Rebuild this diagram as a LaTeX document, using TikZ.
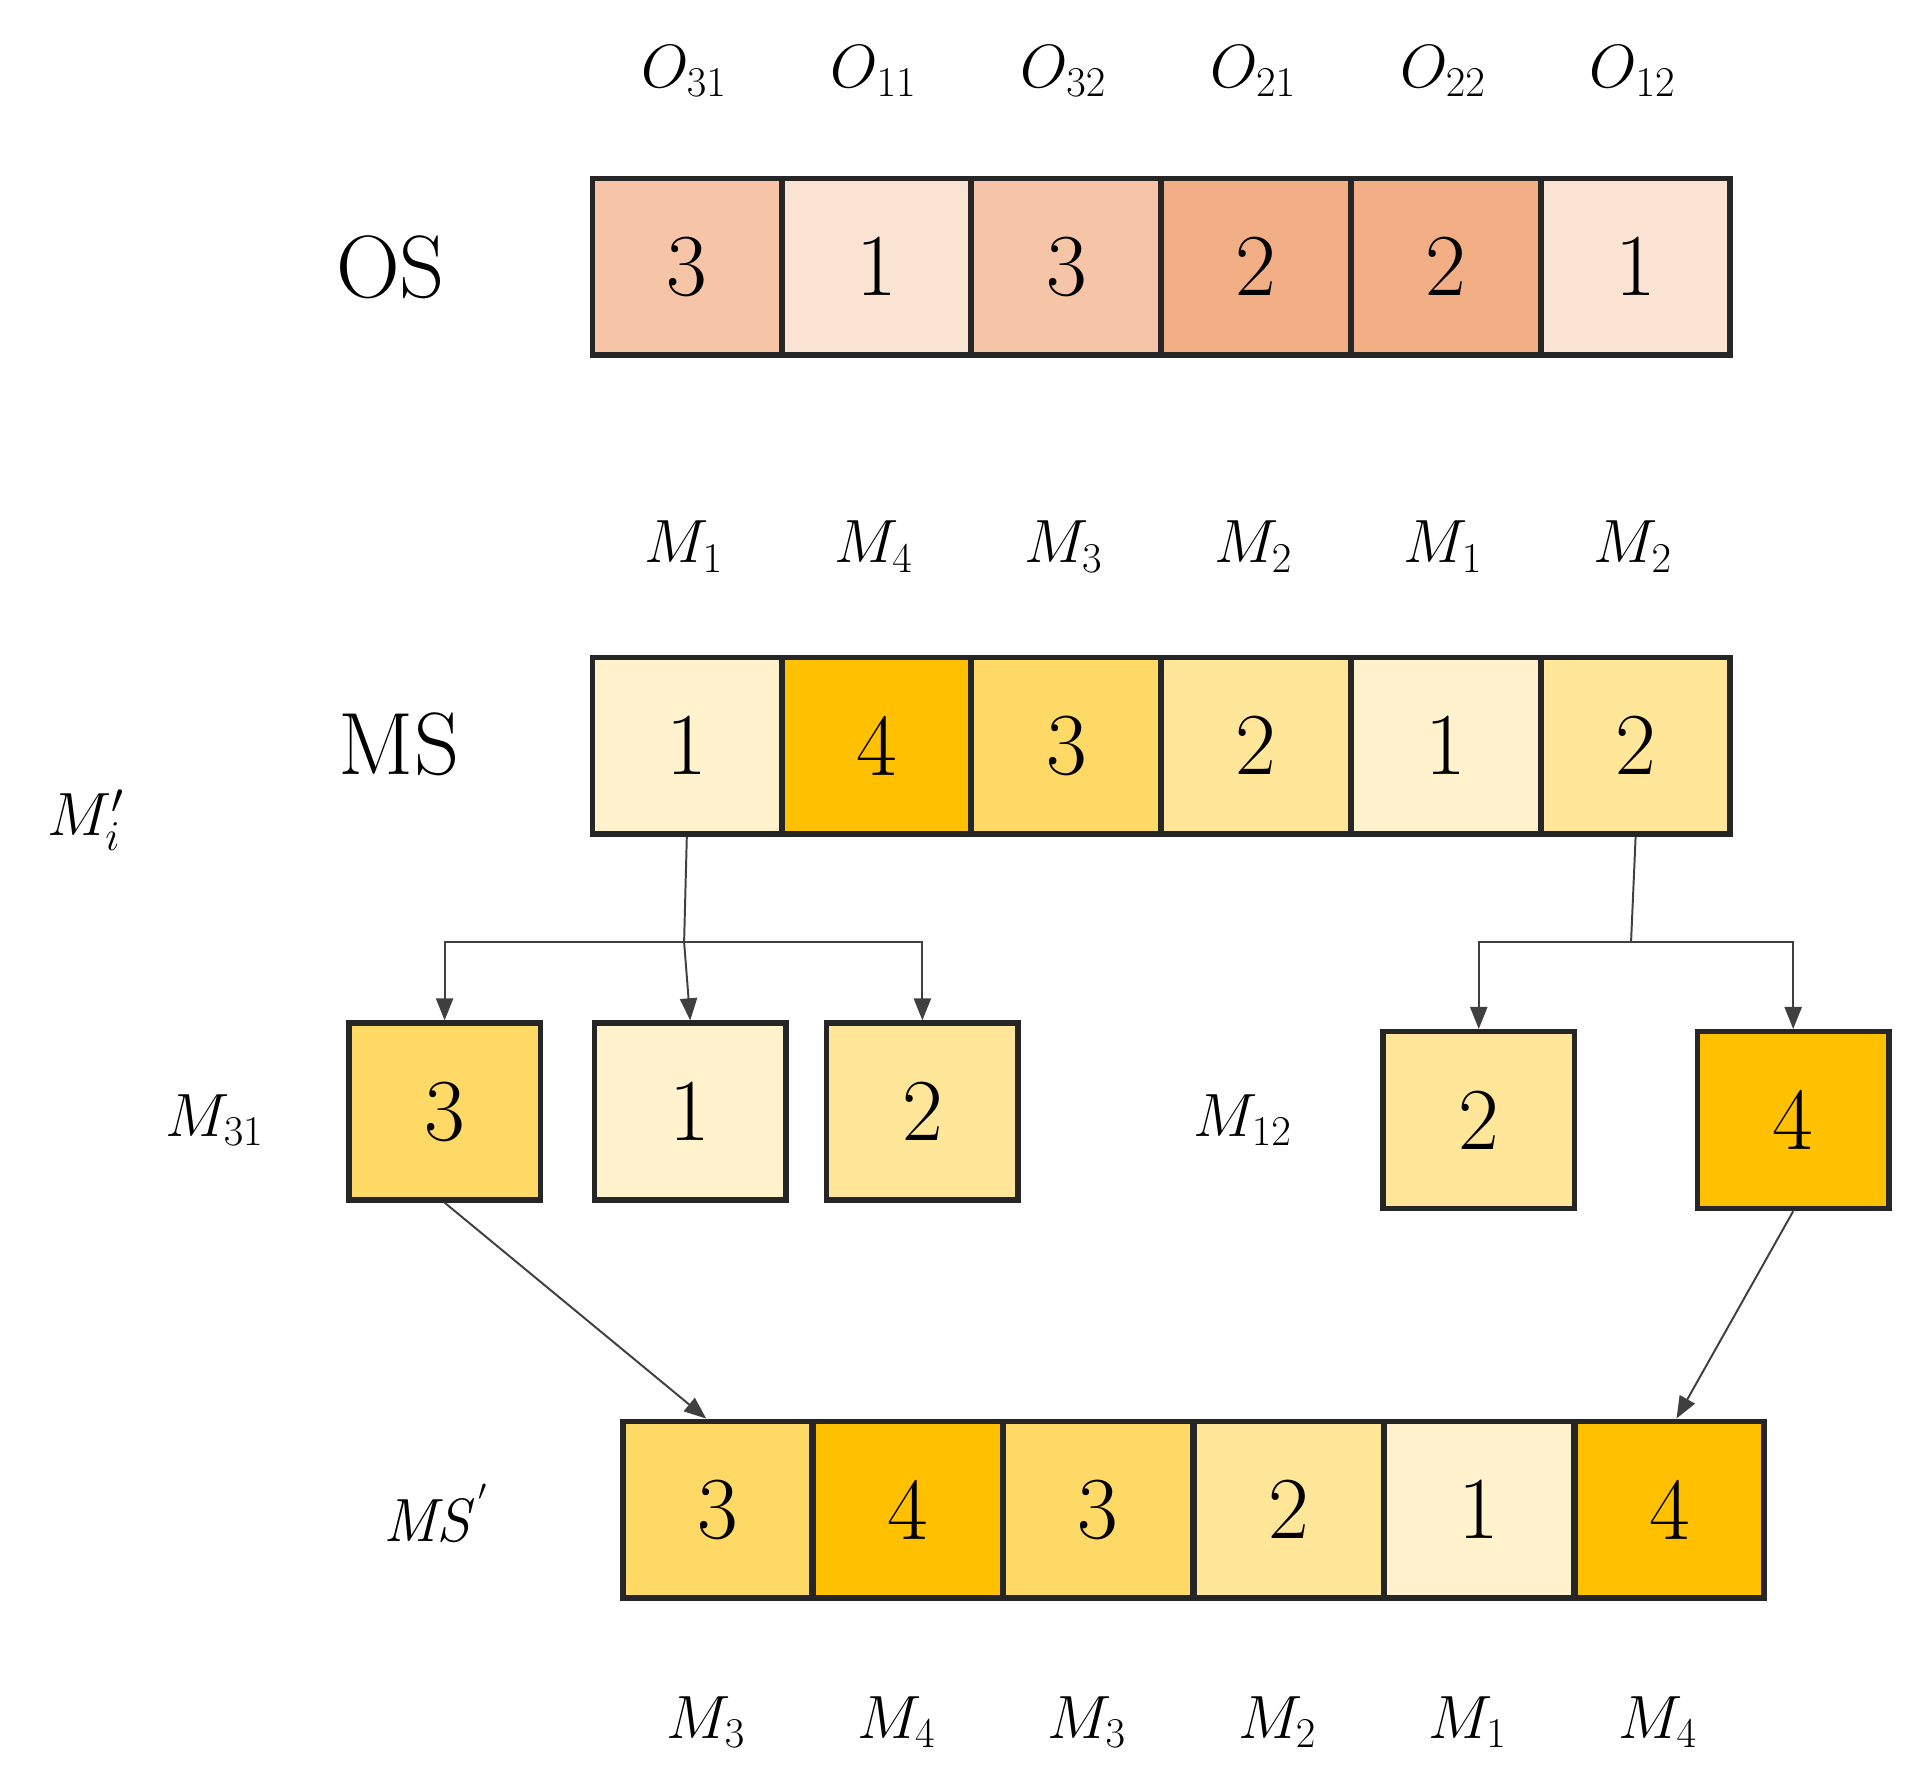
\documentclass[tikz,border=0pt]{standalone}
\usetikzlibrary{arrows.meta}
\begin{document}
\begin{tikzpicture}[x=0.5pt,y=-0.5pt,
 cell/.style={draw=black!85,line width=2.2pt,minimum width=77pt,minimum height=72pt,inner sep=0pt,font=\fontsize{36}{40}\selectfont,anchor=north west},
 sq/.style={draw=black!85,line width=2.2pt,minimum width=78pt,minimum height=72pt,inner sep=0pt,font=\fontsize{36}{40}\selectfont},
 lab/.style={font=\fontsize{26}{30}\selectfont},
 big/.style={font=\fontsize{36}{40}\selectfont},
 con/.style={draw=black!75,line width=0.8pt},
 arr/.style={con,-{Triangle[length=9pt,width=7pt]}}]
\useasboundingbox (0,0) rectangle (1560,1443);
\definecolor{o1}{HTML}{FBE3D4}\definecolor{o3}{HTML}{F6C5A7}\definecolor{o2}{HTML}{F2AE85}
\definecolor{m1}{HTML}{FFF2CC}\definecolor{m2}{HTML}{FFE699}\definecolor{m3}{HTML}{FFD966}\definecolor{m4}{HTML}{FFC000}
% OS row
\foreach \v/\c/\t [count=\i from 0] in {3/o3/31,1/o1/11,3/o3/32,2/o2/21,2/o2/22,1/o1/12}{
 \node[cell,fill=\c] (os\i) at (480+154.5*\i,143) {\v};
 \node[lab] (ot\i) at (557+154.5*\i,58) {$O_{\t}$};}
\node[big] (OS) at (318,218) {OS};
% MS row
\foreach \v/\c [count=\i from 0] in {1/m1,4/m4,3/m3,2/m2,1/m1,2/m2}{
 \node[cell,fill=\c] (ms\i) at (480+154.5*\i,533) {\v};
 \node[lab] (mt\i) at (557+154.5*\i,445) {$M_{\v}$};}
\node[big] (MS) at (325,606) {MS};
\node[lab] (Mi) at (70,668) {$M_i'$};
% small boxes
\node[sq,fill=m3] (a1) at (362,905) {3};
\node[sq,fill=m1] (a2) at (562,905) {1};
\node[sq,fill=m2] (a3) at (751,905) {2};
\node[lab] (M31) at (175,912) {$M_{31}$};
\node[sq,fill=m2] (b1) at (1204,912) {2};
\node[sq,fill=m4] (b2) at (1460,912) {4};
\node[lab] (M12) at (1012,912) {$M_{12}$};
% connectors
\coordinate (j1) at (557,767);
\coordinate (j2) at (1328,767);
\draw[con] (ms0.south) -- (j1);
\draw[arr] (j1) -| (a1.north);
\draw[arr] (j1) -- (a2.north);
\draw[arr] (j1) -| (a3.north);
\draw[con] (ms5.south) -- (j2);
\draw[arr] (j2) -| (b1.north);
\draw[arr] (j2) -| (b2.north);
% MS' row
\foreach \v/\c [count=\i from 0] in {3/m3,4/m4,3/m3,2/m2,1/m1,4/m4}{
 \node[cell,fill=\c] (mp\i) at (505+155*\i,1155) {\v};
 \node[lab] (pt\i) at (575+155*\i,1402) {$M_{\v}$};}
\node[lab] (MSp) at (355,1232) {$\mathit{MS}^{'}$};
\coordinate (t1) at (575,1155);
\coordinate (t2) at (1365,1155);
\draw[arr] (a1.south) -- (t1);
\draw[arr] (b2.south) -- (t2);
\end{tikzpicture}
\end{document}
